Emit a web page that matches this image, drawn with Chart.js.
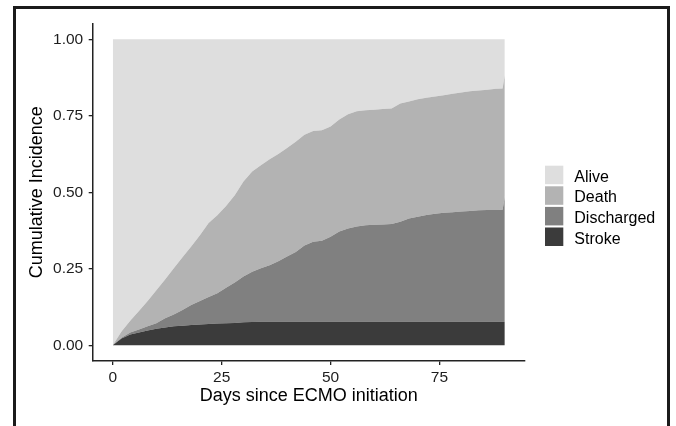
<!DOCTYPE html>
<html>
<head>
<meta charset="utf-8">
<script src="https://cdn.jsdelivr.net/npm/chart.js@4.4.0/dist/chart.umd.min.js"></script>
<style>
    html, body { margin: 0; padding: 0; background: #fff; overflow: hidden; }
    #wrap { position: relative; width: 676px; height: 426px; }
    #chart { position: absolute; left: 0; top: 0; }
    #frame {
        position: absolute; left: 13px; top: 6px; width: 657px; height: 520px;
        border: 3px solid #1b1b1b; box-sizing: border-box; pointer-events: none;
    }
</style>
</head>
<body>
<div id="wrap">
    <canvas id="chart" width="676" height="426"></canvas>
    <div id="frame"></div>
</div>
<script>
    // days since ECMO initiation
    var days = [
        0, 2, 4, 6, 8, 10, 12, 14, 16, 18,
        20, 22, 24, 26, 28, 30, 32, 34, 36, 38,
        40, 42, 44, 46, 48, 50, 52, 54, 56, 58,
        60, 62, 64, 66, 68, 70, 72, 74, 76, 78,
        80, 82, 84, 86, 88, 89.5, 90
    ];

    // probability of each state (they stack up to 1)
    var stroke = [
        0, 0.022, 0.035, 0.042, 0.048, 0.054, 0.058, 0.062, 0.064, 0.066,
        0.068, 0.070, 0.071, 0.072, 0.073, 0.075, 0.076, 0.077, 0.077, 0.077,
        0.077, 0.077, 0.077, 0.077, 0.077, 0.077, 0.077, 0.077, 0.077, 0.077,
        0.077, 0.077, 0.077, 0.077, 0.077, 0.077, 0.077, 0.077, 0.077, 0.077,
        0.077, 0.077, 0.077, 0.077, 0.077, 0.077, 0.077
    ];
    var discharged = [
        0, 0.003, 0.007, 0.010, 0.014, 0.018, 0.030, 0.039, 0.051, 0.066,
        0.077, 0.088, 0.099, 0.116, 0.132, 0.150, 0.164, 0.175, 0.185, 0.198,
        0.213, 0.228, 0.249, 0.261, 0.265, 0.278, 0.295, 0.305, 0.311, 0.315,
        0.317, 0.318, 0.319, 0.327, 0.337, 0.343, 0.349, 0.353, 0.356, 0.358,
        0.360, 0.362, 0.364, 0.365, 0.365, 0.366, 0.409
    ];
    var death = [
        0, 0.020, 0.038, 0.060, 0.083, 0.108, 0.127, 0.151, 0.173, 0.191,
        0.215, 0.242, 0.255, 0.267, 0.285, 0.310, 0.328, 0.336, 0.346, 0.350,
        0.355, 0.360, 0.362, 0.362, 0.361, 0.360, 0.366, 0.373, 0.377, 0.376,
        0.376, 0.377, 0.378, 0.386, 0.383, 0.384, 0.383, 0.383, 0.384, 0.387,
        0.389, 0.391, 0.392, 0.393, 0.396, 0.396, 0.397
    ];
    var alive = [
        1, 0.955, 0.920, 0.888, 0.855, 0.820, 0.785, 0.748, 0.712, 0.677,
        0.640, 0.600, 0.575, 0.545, 0.510, 0.465, 0.432, 0.412, 0.392, 0.375,
        0.355, 0.335, 0.312, 0.300, 0.297, 0.285, 0.262, 0.245, 0.235, 0.232,
        0.230, 0.228, 0.226, 0.210, 0.203, 0.196, 0.191, 0.187, 0.183, 0.178,
        0.174, 0.170, 0.167, 0.165, 0.162, 0.161, 0.117
    ];

    var states = ['Stroke', 'Discharged', 'Death', 'Alive'];
    var colors = ['#3b3b3b', '#808080', '#b3b3b3', '#dedede'];

    var xTicks = [0, 25, 50, 75];
    var yTicks = [0, 0.25, 0.5, 0.75, 1];
    var yTickLabels = ['0.00', '0.25', '0.50', '0.75', '1.00'];

    Chart.defaults.font.family = '"Liberation Sans", Arial, sans-serif';

    var series = [stroke, discharged, death, alive];
    var dataSet = [];

    series.forEach(function (values, index) {
        dataSet.push({
            label: states[index],
            data: days.map(function (d, i) { return { x: d, y: values[i] }; }),
            backgroundColor: colors[index],
            borderColor: colors[index],
            borderWidth: 0,
            pointRadius: 0,
            tension: 0,
            fill: index === 0 ? 'origin' : '-1'
        });
    });

    // ggplot style legend at the right, top entry = top layer
    var sideLegend = {
        id: 'sideLegend',
        afterDraw: function (chart) {
            var ctx = chart.ctx;
            var sets = chart.data.datasets.slice().reverse();
            ctx.save();
            ctx.font = '16px "Liberation Sans", Arial, sans-serif';
            ctx.textBaseline = 'alphabetic';
            sets.forEach(function (ds, i) {
                var top = 165.7 + i * 20.6;
                ctx.fillStyle = ds.backgroundColor;
                ctx.fillRect(545, top, 18.3, 18.5);
                ctx.fillStyle = '#000';
                ctx.fillText(ds.label, 574.3, top + 16);
            });
            ctx.restore();
        }
    };

    new Chart(document.getElementById('chart'), {
        type: 'line',
        data: { datasets: dataSet },
        plugins: [sideLegend],
        options: {
            responsive: false,
            animation: false,
            layout: { padding: { left: 0, top: 24, right: 151.6, bottom: 0 } },
            plugins: {
                legend: { display: false },
                tooltip: { enabled: false }
            },
            scales: {
                x: {
                    type: 'linear',
                    min: -4.5,
                    max: 94.5,
                    afterBuildTicks: function (scale) {
                        scale.ticks = xTicks.map(function (v) { return { value: v }; });
                    },
                    afterFit: function (scale) { scale.height = 65.4; },
                    ticks: {
                        color: '#1e1e1e',
                        font: { size: 15.5 },
                        padding: 3,
                        maxRotation: 0
                    },
                    grid: { drawOnChartArea: false, tickLength: 4.5, color: '#222', lineWidth: 1.3 },
                    border: { color: '#222', width: 1.5 },
                    title: {
                        display: true,
                        text: 'Days since ECMO initiation',
                        color: '#000',
                        font: { size: 18 },
                        padding: { top: 0, bottom: 19 }
                    }
                },
                y: {
                    type: 'linear',
                    stacked: true,
                    min: -0.05,
                    max: 1.05,
                    afterBuildTicks: function (scale) {
                        scale.ticks = yTicks.map(function (v) { return { value: v }; });
                    },
                    afterFit: function (scale) { scale.width = 93.2; },
                    ticks: {
                        color: '#1e1e1e',
                        font: { size: 15.5 },
                        padding: 5.5,
                        callback: function (value) {
                            return yTickLabels[yTicks.indexOf(value)];
                        }
                    },
                    grid: { drawOnChartArea: false, tickLength: 4.5, color: '#222', lineWidth: 1.3 },
                    border: { color: '#222', width: 1.5 },
                    title: {
                        display: true,
                        text: 'Cumulative Incidence',
                        color: '#000',
                        font: { size: 18 },
                        padding: { top: 26, bottom: 0 }
                    }
                }
            }
        }
    });
</script>
</body>
</html>
